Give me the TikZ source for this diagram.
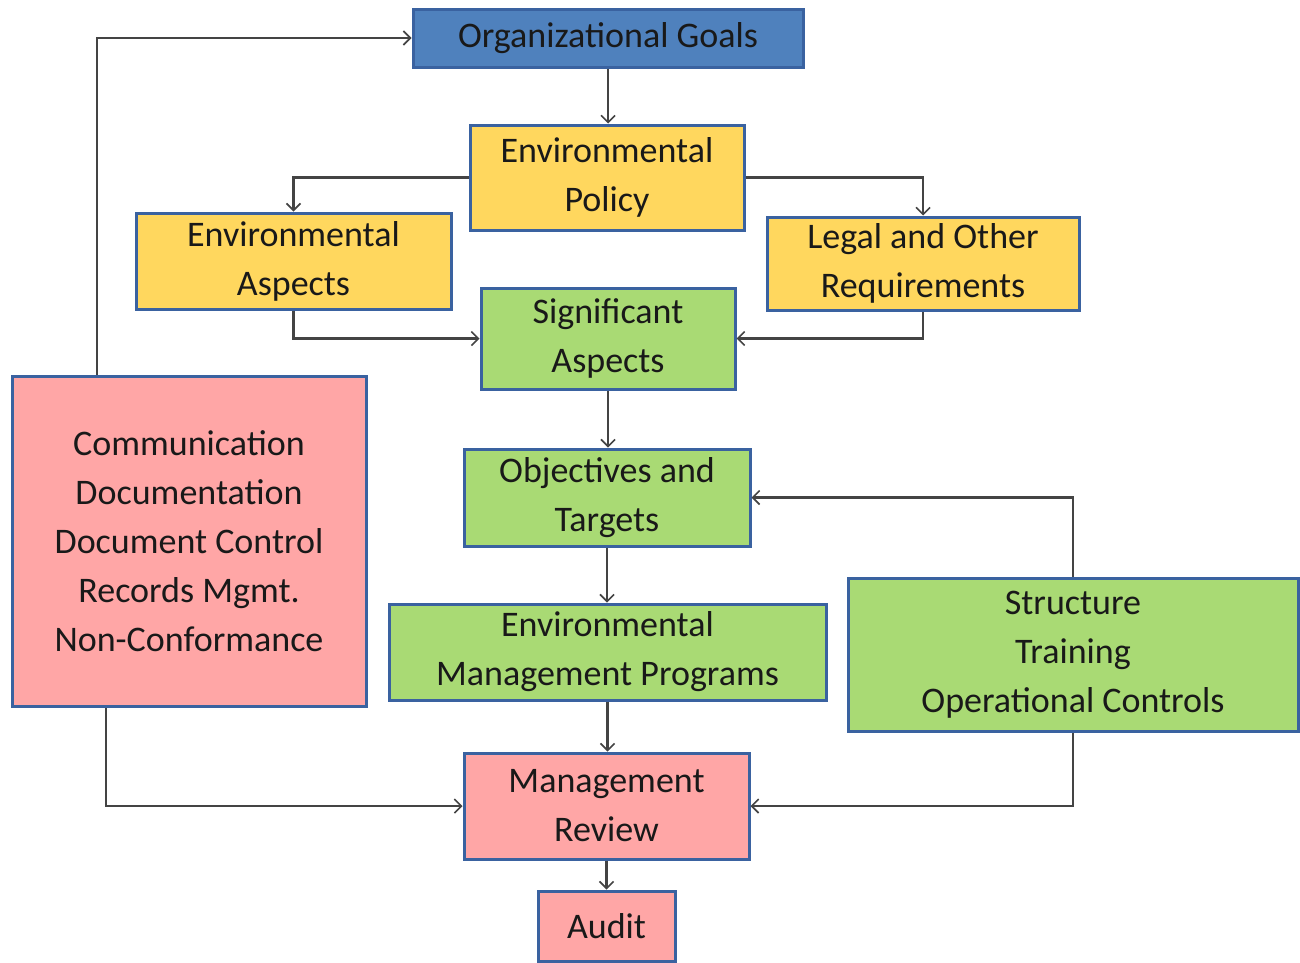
\documentclass[tikz,border=0pt]{standalone}
\usepackage{fontspec}
\setmainfont{Carlito}
\usetikzlibrary{arrows.meta}
\definecolor{bord}{HTML}{3A62A0}
\definecolor{cblue}{HTML}{4F81BD}
\definecolor{cyel}{HTML}{FFD75E}
\definecolor{cgreen}{HTML}{A9DA74}
\definecolor{cpink}{HTML}{FFA6A6}
\definecolor{cline}{HTML}{444444}
\tikzset{
  box/.style={draw=bord, line width=3pt, inner sep=0pt, align=center,
    font=\fontsize{36}{49}\selectfont, text=black!90},
  arr/.style={draw=cline, line width=2.2pt, -{Straight Barb[length=7pt,width=14pt,line width=1.6pt]}},
}
\begin{document}
\begin{tikzpicture}[x=1pt,y=-1pt]
\useasboundingbox (0,0) rectangle (1300,962);
\node[box, fill=cblue, minimum width=390pt, minimum height=58pt] (org) at (608,38) {Organizational Goals};
\node[box, fill=cyel, minimum width=274pt, minimum height=105pt] (pol) at (607,177.5) {Environmental\\Policy};
\node[box, fill=cyel, minimum width=315pt, minimum height=96pt] (asp) at (293.5,261) {Environmental\\Aspects};
\node[box, fill=cyel, minimum width=312pt, minimum height=93pt] (leg) at (923,263.5) {Legal and Other\\Requirements};
\node[box, fill=cgreen, minimum width=254pt, minimum height=101pt] (sig) at (608,338.5) {Significant\\Aspects};
\node[box, fill=cgreen, minimum width=286pt, minimum height=97pt] (obj) at (607,497.5) {Objectives and\\Targets};
\node[box, fill=cgreen, minimum width=437pt, minimum height=96pt] (emp) at (607.5,652) {Environmental\\Management Programs};
\node[box, fill=cgreen, minimum width=450pt, minimum height=153pt] (str) at (1073,654.5) {Structure\\Training\\Operational Controls};
\node[box, fill=cpink, minimum width=354pt, minimum height=330pt] (com) at (189,541) {Communication\\Documentation\\Document Control\\Records Mgmt.\\Non-Conformance};
\node[box, fill=cpink, minimum width=285pt, minimum height=106pt] (mr) at (606.5,806) {Management\\Review};
\node[box, fill=cpink, minimum width=137pt, minimum height=70pt] (aud) at (606.5,926) {Audit};

\draw[arr] (org.south) -- (org.south |- pol.north);
\draw[arr] (pol.west) -| (asp.north);
\draw[arr] (pol.east) -| (leg.north);
\draw[arr] (asp.south) |- (sig.west);
\draw[arr] (leg.south) |- (sig.east);
\draw[arr] (sig.south) -- (sig.south |- obj.north);
\draw[arr] (obj.south) -- (obj.south |- emp.north);
\draw[arr] (emp.south) -- (emp.south |- mr.north);
\draw[arr] (mr.south) -- (mr.south |- aud.north);
\draw[arr] (str.north) |- (obj.east);
\draw[arr] (str.south) |- (mr.east);
\draw[arr] ([xshift=-83pt]com.south) |- (mr.west);
\draw[arr] ([xshift=-92pt]com.north) |- (org.west);
\end{tikzpicture}
\end{document}
